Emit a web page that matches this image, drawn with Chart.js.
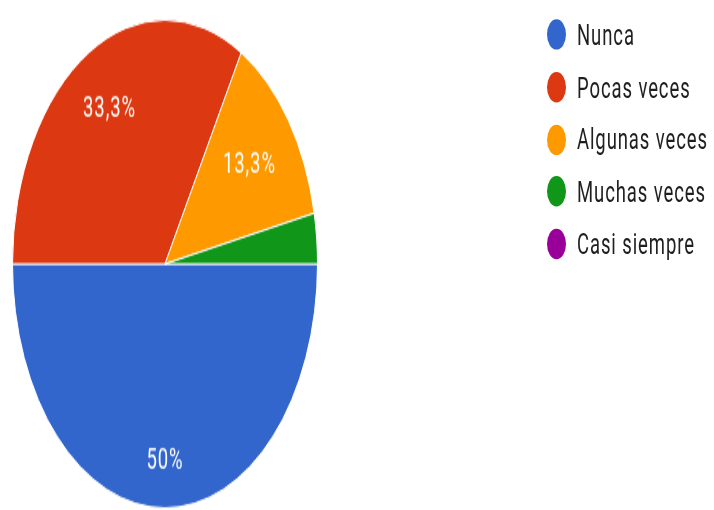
<!DOCTYPE html>
<html lang="es">
<head>
    <meta charset="UTF-8">
    <title>Frecuencia</title>
    <style>
        html, body {
            margin: 0;
            padding: 0;
            background: #fff;
            overflow: hidden;
        }
        /* the whole figure is drawn flat and then stretched vertically */
        #stage {
            position: absolute;
            left: 0;
            top: 0;
            width: 714px;
            height: 320px;
            transform: scaleY(1.6);
            transform-origin: 0 0;
        }
        #pieBox {
            position: absolute;
            left: 0;
            top: 0;
            width: 330px;
            height: 330px;
        }
        #legend {
            position: absolute;
            left: 547px;
            top: 5.6px;
            margin: 0;
            padding: 0;
            list-style: none;
            font-family: Roboto, "Noto Sans", sans-serif;
            font-size: 18.5px;
            letter-spacing: 0.9px;
            color: #1f1f1f;
        }
        #legend li {
            display: flex;
            align-items: center;
            height: 32.66px;
            white-space: nowrap;
        }
        #legend .dot {
            display: inline-block;
            width: 19px;
            height: 19px;
            border-radius: 50%;
            margin-right: 11px;
        }
    </style>
    <script src="https://cdn.jsdelivr.net/npm/chart.js"></script>
</head>
<body>
    <div id="stage">
        <div id="pieBox">
            <canvas id="pieChart"></canvas>
        </div>
        <ul id="legend"></ul>
    </div>

    <script>
        const categories = ['Nunca', 'Pocas veces', 'Algunas veces', 'Muchas veces', 'Casi siempre'];
        const responses = [15, 10, 4, 1, 0];
        const sliceColors = ['#3366cc', '#dc3912', '#ff9900', '#109618', '#990099'];

        // percentage text inside each slice
        const sliceLabels = {
            id: 'sliceLabels',
            afterDatasetsDraw(chart, args, opts) {
                const ctx = chart.ctx;
                const data = chart.data.datasets[0].data;
                const total = data.reduce((a, b) => a + b, 0);
                const meta = chart.getDatasetMeta(0);
                ctx.save();
                ctx.fillStyle = opts.color;
                ctx.font = opts.font;
                if ('letterSpacing' in ctx) ctx.letterSpacing = opts.spacing;
                ctx.textAlign = 'center';
                ctx.textBaseline = 'middle';
                meta.data.forEach((arc, i) => {
                    const pct = data[i] / total * 100;
                    if (pct < opts.minPercent) return;
                    const p = arc.getProps(['x', 'y', 'startAngle', 'endAngle', 'outerRadius'], true);
                    const mid = (p.startAngle + p.endAngle) / 2;
                    const r = p.outerRadius * (opts.radius[i] || 0.7);
                    const text = (Math.round(pct * 10) / 10).toString().replace('.', ',') + '%';
                    ctx.fillText(text, p.x + Math.cos(mid) * r, p.y + Math.sin(mid) * r);
                });
                ctx.restore();
            }
        };

        // legend as plain list next to the pie
        const htmlLegend = {
            id: 'htmlLegend',
            afterUpdate(chart) {
                const ul = document.getElementById('legend');
                ul.innerHTML = '';
                const items = chart.options.plugins.legend.labels.generateLabels(chart);
                items.forEach(item => {
                    const li = document.createElement('li');
                    const dot = document.createElement('span');
                    dot.className = 'dot';
                    dot.style.background = item.fillStyle;
                    li.appendChild(dot);
                    li.appendChild(document.createTextNode(item.text));
                    ul.appendChild(li);
                });
            }
        };

        const ctx = document.getElementById('pieChart').getContext('2d');
        const chart = new Chart(ctx, {
            type: 'pie',
            data: {
                labels: categories,
                datasets: [{
                    data: responses,
                    backgroundColor: sliceColors,
                    borderColor: '#fff',
                    borderWidth: 1
                }]
            },
            options: {
                responsive: true,
                maintainAspectRatio: false,
                animation: false,
                rotation: 90,
                layout: { padding: 12 },
                plugins: {
                    legend: { display: false },
                    tooltip: { enabled: false },
                    sliceLabels: {
                        color: '#fff',
                        font: '18.5px Roboto',
                        spacing: '0.9px',
                        minPercent: 5,
                        radius: [0.81, 0.728, 0.684]
                    }
                }
            },
            plugins: [sliceLabels, htmlLegend]
        });
    </script>
</body>
</html>
